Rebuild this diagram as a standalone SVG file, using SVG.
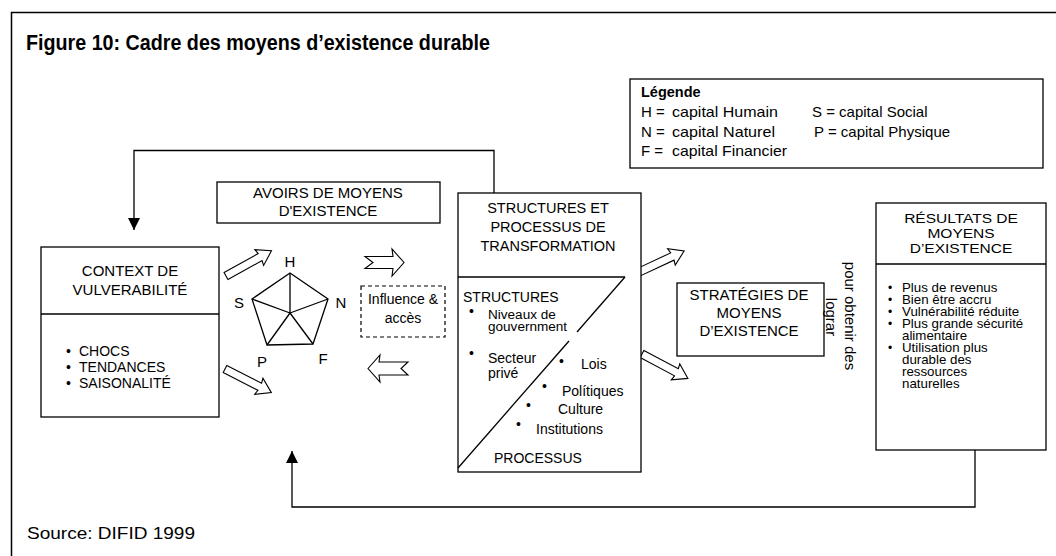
<svg xmlns="http://www.w3.org/2000/svg" xmlns:xlink="http://www.w3.org/1999/xlink" width="1056" height="556" viewBox="0 0 1056 556">
<style>
text{font-family:"Liberation Sans",Arial,sans-serif;fill:#000}
.box{fill:#fff;stroke:#000;stroke-width:1.3}
.ln{fill:none;stroke:#000;stroke-width:1.3}
.dash{fill:#fff;stroke:#000;stroke-width:1.2;stroke-dasharray:4,3}
.ba{fill:#fff;stroke:#000;stroke-width:1.1;stroke-linejoin:miter}
.h{font-size:15px;text-anchor:middle}
.hs{font-size:14.5px;text-anchor:middle}
.b{font-size:14px}
.r{font-size:12px}
.lg{font-size:15px}
.c{text-anchor:middle}
</style>
<defs>
<marker id="tri" markerUnits="userSpaceOnUse" markerWidth="12" markerHeight="12" refX="12" refY="6" orient="auto"><path d="M0,0 L12,6 L0,12 z" fill="#000"/></marker>
<path id="barrow" d="M0,-4 L39,-4 L38,-9 L52,0 L38,9 L39,4 L0,4 z"/>
</defs>
<rect x="11.5" y="12.5" width="1060" height="560" fill="#fff" stroke="#000" stroke-width="1.5"/>
<text x="26" y="50" font-size="22" font-weight="bold" textLength="464" lengthAdjust="spacingAndGlyphs">Figure 10: Cadre des moyens d’existence durable</text>
<text x="27" y="539" font-size="17" textLength="168" lengthAdjust="spacingAndGlyphs">Source: DIFID 1999</text>

<g id="legend">
<rect class="box" x="630" y="79" width="413" height="89"/>
<text x="641" y="97" font-size="14.5" font-weight="bold">Légende</text>
<text class="lg" x="641" y="117">H =</text><text class="lg" x="672" y="117" textLength="106" lengthAdjust="spacingAndGlyphs">capital Humain</text>
<text class="lg" x="812" y="117">S = capital Social</text>
<text class="lg" x="641" y="137">N =</text><text class="lg" x="672" y="137" textLength="103" lengthAdjust="spacingAndGlyphs">capital Naturel</text>
<text class="lg" x="814" y="137">P = capital Physique</text>
<text class="lg" x="641" y="156">F =</text><text class="lg" x="672" y="156" textLength="115" lengthAdjust="spacingAndGlyphs">capital Financier</text>
</g>

<g id="connectors">
<polyline class="ln" points="494,193 494,150.5 134,150.5 134,230" marker-end="url(#tri)"/>
<polyline class="ln" points="975,450 975,507 292,507 292,451" marker-end="url(#tri)"/>
<use xlink:href="#barrow" class="ba" transform="translate(226,276) rotate(-29)"/>
<use xlink:href="#barrow" class="ba" transform="translate(225,369) rotate(27)"/>
<use xlink:href="#barrow" class="ba" transform="translate(637,273) rotate(-25)"/>
<use xlink:href="#barrow" class="ba" transform="translate(642,354) rotate(28)"/>
<polygon class="ba" points="365,256.5 393,256.5 392,249 404,262.5 392,276 393,268.5 365,268.5 373,262.5"/>
<polygon class="ba" points="368,368.5 380,355 379,362 408,362 401,368.5 408,375 379,375 380,382"/>
</g>

<g id="avoirs">
<rect class="box" x="217" y="182" width="223" height="41"/>
<text class="h" x="328" y="198">AVOIRS DE MOYENS</text>
<text class="h" x="328" y="216">D'EXISTENCE</text>
</g>

<g id="context">
<rect class="box" x="41" y="247" width="178" height="170"/>
<line class="ln" x1="41" y1="314" x2="219" y2="314"/>
<text class="h" x="130" y="276">CONTEXT DE</text>
<text class="h" x="130" y="295">VULVERABILITÉ</text>
<text class="b" x="66" y="356">•</text><text class="b" x="79" y="356">CHOCS</text>
<text class="b" x="66" y="372">•</text><text class="b" x="79" y="372">TENDANCES</text>
<text class="b" x="66" y="388">•</text><text class="b" x="79" y="388">SAISONALITÉ</text>
</g>

<g id="pentagon">
<polygon class="ln" points="290,273 328,299 313,344 267,345 252,299"/>
<path class="ln" d="M290,313 L290,273 M290,313 L328,299 M290,313 L313,344 M290,313 L267,345 M290,313 L252,299"/>
<text class="h" x="290" y="267">H</text>
<text class="h" x="341" y="308">N</text>
<text class="h" x="323" y="364">F</text>
<text class="h" x="262" y="367">P</text>
<text class="h" x="239" y="308">S</text>
</g>

<g id="influence">
<rect class="dash" x="361" y="286" width="84" height="51"/>
<text class="b c" x="403" y="304">Influence &amp;</text>
<text class="b c" x="403" y="323">accès</text>
</g>

<g id="structures">
<rect class="box" x="458" y="193" width="183" height="279"/>
<line class="ln" x1="458" y1="277" x2="625" y2="277"/>
<line class="ln" x1="625" y1="277" x2="577" y2="332"/>
<line class="ln" x1="569" y1="341" x2="458" y2="468"/>
<text class="hs" x="548" y="213">STRUCTURES ET</text>
<text class="hs" x="548" y="232">PROCESSUS DE</text>
<text class="hs" x="548" y="251">TRANSFORMATION</text>
<text class="b" x="463" y="302">STRUCTURES</text>
<text class="b" x="469" y="316">•</text>
<text font-size="12" transform="translate(488,0) scale(1.13,1)"><tspan x="0" y="319">Niveaux de</tspan><tspan x="0" y="331">gouvernment</tspan></text>
<text class="b" x="469" y="358">•</text>
<text class="b"><tspan x="488" y="363">Secteur</tspan><tspan x="488" y="378">privé</tspan></text>
<text class="b" x="559" y="366">•</text>
<text class="b" x="581" y="369">Lois</text>
<text class="b" x="542" y="391">•</text>
<text class="b" x="562" y="396">Polítiques</text>
<text class="b" x="526" y="410">•</text>
<text class="b" x="558" y="414">Culture</text>
<text class="b" x="516" y="429">•</text>
<text class="b" x="536" y="434">Institutions</text>
<text class="b" x="494" y="463">PROCESSUS</text>
</g>

<g id="strategies">
<rect class="box" x="677" y="283" width="147" height="73"/>
<text class="h" x="749" y="300">STRATÉGIES DE</text>
<text class="h" x="749" y="318">MOYENS</text>
<text class="h" x="749" y="336">D’EXISTENCE</text>
</g>

<g id="obtenir">
<text font-size="15" text-anchor="middle" transform="translate(845,316) rotate(90)">pour obtenir des</text>
<text font-size="15" text-anchor="middle" transform="translate(826,317) rotate(90)">lograr</text>
</g>

<g id="resultats">
<rect class="box" x="876" y="203" width="170" height="247"/>
<line class="ln" x1="876" y1="264" x2="1046" y2="264"/>
<text font-size="13.5" text-anchor="middle" transform="translate(961,0) scale(1.15,1)"><tspan x="0" y="223">RÉSULTATS DE</tspan><tspan x="0" y="238">MOYENS</tspan><tspan x="0" y="253">D’EXISTENCE</tspan></text>
<text class="r"><tspan x="888" y="292">•</tspan><tspan x="888" y="304">•</tspan><tspan x="888" y="316">•</tspan><tspan x="888" y="328">•</tspan><tspan x="888" y="352">•</tspan></text>
<text class="r" transform="translate(902,0) scale(1.11,1)"><tspan x="0" y="292">Plus de revenus</tspan><tspan x="0" y="304">Bien être accru</tspan><tspan x="0" y="316">Vulnérabilité réduite</tspan><tspan x="0" y="328">Plus grande sécurité</tspan><tspan x="0" y="340">alimentaire</tspan><tspan x="0" y="352">Utilisation plus</tspan><tspan x="0" y="364">durable des</tspan><tspan x="0" y="376">ressources</tspan><tspan x="0" y="388">naturelles</tspan></text>
</g>
</svg>
